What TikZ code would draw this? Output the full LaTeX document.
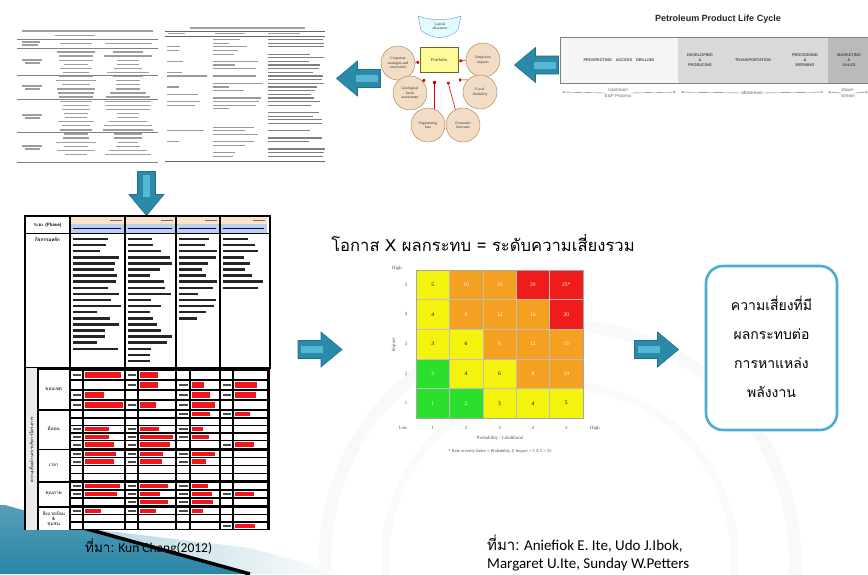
\documentclass[tikz,border=0pt]{standalone}
\usepackage{fontspec}
\setmainfont{Liberation Serif}
\newfontfamily\thaifont[Script=Thai]{Loma}
\newfontfamily\calfont{Carlito}
\newfontfamily\lsans{Liberation Sans}
\newcommand\fsz[2]{\fontsize{#1}{#2}\selectfont}
\definecolor{tealA}{HTML}{2B8AA8}
\definecolor{tealB}{HTML}{1F6F8B}
\definecolor{tealHi}{HTML}{56B6D3}
\definecolor{boxblue}{HTML}{4BADCF}
\definecolor{myY}{HTML}{F3F30E}
\definecolor{myO}{HTML}{F4A020}
\definecolor{myR}{HTML}{F01C1C}
\definecolor{myG}{HTML}{2CDF2C}
\definecolor{circfill}{HTML}{F2DCC4}
\definecolor{circedge}{HTML}{B08A66}
\definecolor{peach}{HTML}{FBE2CB}
\definecolor{hblue}{HTML}{BFD1EA}
\definecolor{cellred}{HTML}{F4141C}
\definecolor{decoteal}{HTML}{2A86A6}
% teal block arrow: centre x, centre y, direction angle
\newcommand\slidearrow[3]{%
  \begin{scope}[shift={(#1,#2)},rotate=#3]
    \fill[tealA,draw=tealB,line width=0.6] (-22,-9) -- (1,-9) -- (1,-17.5) -- (22,0) -- (1,17.5) -- (1,9) -- (-22,9) -- cycle;
    \fill[tealHi] (-19,-3.5) rectangle (3,3.5);
  \end{scope}}
\tikzset{
  tl/.style={black!38,line width=1.3},
  tline/.style={black!85,line width=2.5},
  factor/.style={circle,fill=circfill,draw=circedge,line width=0.5,minimum size=34,inner sep=0,align=center,font=\fsz{3.8}{4.4},text=black!80},
  feed/.style={red!85!black,line width=0.6,-{Square[length=2.2,width=2.6]}},
  cellbox/.style={minimum width=33.4,minimum height=29.6,inner sep=0,font=\fsz{5.5}{6}},
  axlab/.style={font=\fsz{4.8}{5.5},text=black!70,inner sep=0},
  band/.style={font=\lsans\bfseries\fsz{3.9}{4.8},text=black!70,align=center,inner sep=0},
  flow/.style={font=\lsans\fsz{4.5}{5.2},text=black!60,align=center,inner sep=0},
  thaibox/.style={font=\thaifont\fsz{14}{29},align=center,inner sep=0},
}
\usetikzlibrary{arrows.meta}
\begin{document}
\begin{tikzpicture}[x=1pt,y=-1pt]
\clip (0,0) rectangle (868,574);
\fill[white] (0,0) rectangle (868,574);
\pgfmathsetseed{17}

% faint emblem in the background
\draw[black!2.5,line width=12] (560,560) circle (235);
\draw[black!2,line width=8] (560,560) circle (175);

% bottom-left corner decoration
\shade[left color=decoteal!35,right color=white] (90,529) -- (250,548) -- (345,574) -- (240,574) -- cycle;
\shade[top color=decoteal!80,bottom color=decoteal] (5,505) -- (30,512) -- (245,574) -- (0,574) -- (0,505) -- cycle;
\draw[black,line width=3.5] (80,527) -- (250,574);

% ---------- scanned tables, top left ----------
\fill[white] (17,26) rectangle (158,163);
\draw[tl] (22,31) -- (153,31);
\draw[tl] (55,35.5) -- (95,35.5);
\foreach \yy in {39,48,75,99,132,162}{\draw[black!50,line width=0.4] (17,\yy) -- (158,\yy);}
\draw[tl] (22,42) -- (40,42); \draw[tl] (22,45) -- (38,45);
\draw[tl] (60,43.5) -- (92,43.5); \draw[tl] (105,43.5) -- (152,43.5);
\foreach \i in {0,...,25}{
  \pgfmathsetmacro\yy{52+\i*4.1}
  \pgfmathsetmacro\wa{22+20*rnd}
  \pgfmathsetmacro\wb{20+30*rnd}
  \draw[tl] ({76-\wa/2},\yy) -- ({76+\wa/2},\yy);
  \draw[tl] ({128-\wb/2},\yy) -- ({128+\wb/2},\yy);
}
\foreach \yy in {60,86,115,146}{\draw[tl] (22,\yy) -- (42,\yy); \draw[tl] (25,\yy+3) -- (40,\yy+3);}

\fill[white] (165,25) rectangle (325,163);
\draw[tl] (190,28) -- (305,28);
\draw[black!60,line width=0.5] (165,31) -- (325,31);
\draw[tl] (168,33.5) -- (185,33.5); \draw[tl] (215,33.5) -- (245,33.5); \draw[tl] (268,33.5) -- (300,33.5);
\draw[black!60,line width=0.5] (165,36) -- (325,36);
\draw[black!60,line width=0.5] (165,161) -- (325,161);
\foreach \i in {0,...,32}{
  \pgfmathsetmacro\yy{39.5+\i*3.65}
  \pgfmathsetmacro\pa{rnd}\pgfmathsetmacro\wa{10+30*rnd}
  \pgfmathsetmacro\pb{rnd}\pgfmathsetmacro\wb{15+35*rnd}
  \pgfmathsetmacro\pc{rnd}\pgfmathsetmacro\wc{40+17*rnd}
  \ifdim\pa pt<0.5pt \draw[black!40,line width=1.2] (167,\yy) -- ++(\wa,0); \fi
  \ifdim\pb pt<0.6pt \draw[black!40,line width=1.2] (213,\yy) -- ++(\wb,0); \fi
  \ifdim\pc pt<0.85pt \draw[black!50,line width=1.2] (268,\yy) -- ++(\wc,0); \fi
}

% ---------- portfolio influence diagram ----------
\fill[blue!8!cyan!12,draw=cyan!40!blue!50,line width=0.5] (418,16) .. controls (432,21) and (447,21) .. (461,16) -- (458,30) .. controls (448,40) and (431,40) .. (421,30) -- cycle;
\node[font=\fsz{3.8}{4.4},align=center,text=black!80] (cap) at (440,26) {Capital\\allocation};
\node[draw=olive!70!black,fill=yellow!40,line width=0.6,minimum width=38,minimum height=25,font=\fsz{4.5}{5},text=black!80] (port) at (439,60) {Portfolio};
\coordinate (pl) at (419,62);
\coordinate (pr) at (459.5,61);
\coordinate (pb1) at (425,80);
\coordinate (pb2) at (434,81);
\coordinate (pb3) at (448,82);
\coordinate (pb4) at (459,80);
\coordinate (engtop) at (434,116);
\coordinate (ecotop) at (457,116);
\draw[feed] (engtop) -- (pb2);
\draw[feed] (ecotop) -- (pb3);
\node[factor] (corp) at (398,63) {Corporate\\strategies and\\constraints};
\node[factor] (empl) at (483,60) {Employee\\impacts};
\node[factor] (geo) at (410,93) {Geological\\basin\\assessment};
\node[factor] (fisc) at (480,92) {Fiscal\\flexibility};
\node[factor] (eng) at (428,125) {Engineering\\bias};
\node[factor] (eco) at (463,125) {Economic\\forecasts};
\draw[feed] (corp.east) -- (pl);
\draw[feed] (empl.west) -- (pr);
\draw[feed] (geo.north east) -- (pb1);
\draw[feed] (fisc.north west) -- (pb4);

% ---------- petroleum product life cycle ----------
\node[font=\lsans\bfseries\fsz{9}{10},text=black!85] (lctitle) at (718,19) {Petroleum Product Life Cycle};
\fill[black!4] (560,37) rectangle (678,83);
\fill[black!15] (678,37) rectangle (828,83);
\fill[black!27] (828,37) rectangle (870,83);
\draw[black!50,line width=1] (560,37) rectangle (872,83);
\node[band] (pad) at (619,60) {PROSPECTING\quad ACCESS\quad DRILLING};
\node[band] (dev) at (700,60) {DEVELOPING\\\&\\PRODUCING};
\node[band] (trans) at (753,60) {TRANSPORTATION};
\node[band] (proc) at (805,60) {PROCESSING\\\&\\REFINING};
\node[band] (mkt) at (849,60) {MARKETING\\\&\\SALES};
\node[flow] (up) at (618,93) {Upstream\\E\&P Process};
\node[flow] (mid) at (752,93) {Midstream};
\node[flow] (down) at (848,93) {Down-\\stream};
\coordinate (u0) at (562,92); \coordinate (u1) at (676,92);
\coordinate (m0) at (681,92); \coordinate (m1) at (823,92);
\coordinate (d0) at (828,92); \coordinate (d1) at (868,92);
\draw[black!55,line width=0.4,-{Latex[length=2,width=1.6]}] (up.west) -- (u0);
\draw[black!55,line width=0.4,-{Latex[length=2,width=1.6]}] (up.east) -- (u1);
\draw[black!55,line width=0.4,-{Latex[length=2,width=1.6]}] (mid.west) -- (m0);
\draw[black!55,line width=0.4,-{Latex[length=2,width=1.6]}] (mid.east) -- (m1);
\draw[black!55,line width=0.4,-{Latex[length=2,width=1.6]}] (down.west) -- (d0);
\draw[black!55,line width=0.4,-{Latex[length=2,width=1.6]}] (down.east) -- (d1);

% ---------- block arrows ----------
\slidearrow{358.5}{78.5}{180}
\slidearrow{536.5}{65}{180}
\slidearrow{146.5}{193.5}{-90}
\slidearrow{320}{349.5}{0}
\slidearrow{656.5}{349.5}{0}

% ---------- risk register table ----------
\fill[white] (25,216) rectangle (270,368);
\foreach \a/\b in {71/124,126/175,177/219,221/267}{
  \fill[peach] (\a,217) rectangle (\b,223.6);
  \fill[hblue] (\a,224.2) rectangle (\b,232.5);
  \draw[black!55,line width=1] ({\b-14},220.3) -- (\b-2,220.3);
  \draw[blue!45!black,line width=1.4] (\a+2,228.3) -- (\b-3,228.3);
}
\node[font=\thaifont\bfseries\fsz{4.6}{5},inner sep=0] (phase) at (47.5,225) {ระยะ (Phase)};
\node[font=\thaifont\bfseries\fsz{4.6}{5},inner sep=0] (mainact) at (47.5,240) {กิจกรรมหลัก};
\foreach \x/\xe/\n in {73/122/19,128/174/21,179/218/14,223/266/9}{
  \foreach \i in {1,...,\n}{
    \pgfmathsetmacro\yy{239+(\i-1)*6.1}
    \pgfmathsetmacro\ww{0.45+0.55*rnd}
    \draw[tline] (\x,\yy) -- ({\x+(\xe-\x)*\ww},\yy);
  }
}
\draw[line width=1.6] (25,216) rectangle (270,368);
\draw[line width=1.2] (25,233.5) -- (270,233.5);
\foreach \x/\lw in {70/1.3,125/2.2,176/1.3,220/1.3}{\draw[line width=\lw] (\x,216) -- (\x,368);}

% lower part: risk rows
\fill[black] (37,368) rectangle (270,530);
\fill[black!8] (25,368) rectangle (37,530);
\node[rotate=90,font=\thaifont\fsz{4.4}{5},inner sep=0] (riskside) at (31,450) {ความเสี่ยงด้านการบริหารโครงการ};
\foreach \ta/\tb/\lab in {370/409/ขอบเขต,410.5/448.5/ต้นทุน,450/481/เวลา,482.5/506/คุณภาพ,507.5/530/{สิ่งแวดล้อม\\\&\\ชุมชน}}{
  \fill[white] (38.5,\ta) rectangle (69,\tb);
  \node[font=\thaifont\fsz{4.6}{5.2},align=center,inner sep=0] at (53.7,{(\ta+\tb)/2}) {\lab};
}
\foreach \t/\h in {371/8.2,381/8.2,391/8.2,401/7.6,411/6.2,418.6/6.2,426.2/6.2,433.8/6.2,441.4/6.2,450.5/6.4,458.3/6.4,466.1/6.4,473.9/6.4,483/6.4,490.8/6.4,498.6/6.4,508/6,515.4/6,522.8/6}{
  \foreach \a/\b/\c/\d in {71/82/84/124,126/137/139/175,177/189/191/219,221/232/234/267}{
    \fill[white] (\a,\t) rectangle (\b,\t+\h);
    \fill[white] (\c,\t) rectangle (\d,\t+\h);
    \pgfmathsetmacro\ra{rnd}
    \pgfmathsetmacro\rb{rnd}
    \ifdim\ra pt<0.64pt
      \fill[cellred] (\c+1,\t+1) rectangle ({\c+1+(\d-\c-2)*(0.4+0.6*\rb)},\t+\h-1);
      \fill[black!70] (\a+1.5,\t+\h/2-1) rectangle (\b-1.5,\t+\h/2+1);
    \fi
  }
}
\draw[line width=1.6] (25,368) -- (25,530);

% ---------- risk matrix ----------
\node[font=\thaifont\fsz{16.6}{18},inner sep=0] (formula) at (483,243) {โอกาส X ผลกระทบ = ระดับความเสี่ยงรวม};
\foreach \r/\c/\v/\f/\tc in {
  0/0/5/myY/black,0/1/10/myO/white,0/2/15/myO/white,0/3/20/myR/white,0/4/25*/myR/white,
  1/0/4/myY/black,1/1/8/myO/white,1/2/12/myO/white,1/3/16/myO/white,1/4/20/myR/white,
  2/0/3/myY/black,2/1/6/myY/black,2/2/9/myO/white,2/3/12/myO/white,2/4/15/myO/white,
  3/0/2/myG/white,3/1/4/myY/black,3/2/6/myY/black,3/3/8/myO/white,3/4/10/myO/white,
  4/0/1/myG/white,4/1/2/myG/white,4/2/3/myY/black,4/3/4/myY/black,4/4/5/myY/black}{
  \node[cellbox,fill=\f,text=\tc] (m-\r-\c) at ({416+33.4*(\c+0.5)},{270+29.6*(\r+0.5)}) {\v};
}
\foreach \i in {1,...,4}{
  \draw[black!25,line width=0.5] ({416+33.4*\i},270) -- ({416+33.4*\i},418);
  \draw[black!25,line width=0.5] (416,{270+29.6*\i}) -- (583,{270+29.6*\i});
}
\draw[black!35,line width=0.6] (416,270) rectangle (583,418);
\foreach \r/\v in {0/5,1/4,2/3,3/2,4/1}{\node[axlab] at (406,{270+29.6*(\r+0.5)}) {\v};}
\foreach \c/\v in {0/1,1/2,2/3,3/4,4/5}{\node[axlab] at ({416+33.4*(\c+0.5)},428) {\v};}
\node[axlab] (hiy) at (397,268) {High};
\node[axlab] (lowx) at (403,428) {Low};
\node[axlab] (hix) at (595,428) {High};
\node[axlab,rotate=90] (impact) at (394,345) {Impact};
\node[axlab] (prob) at (500,438) {Probability / Likelihood};
\node[axlab,font=\fsz{4.4}{5}] (sev) at (500,451) {* Risk severity Index = Probability X Impact = 5 X 5 = 25};

% ---------- outcome box ----------
\node[draw=boxblue,line width=2.6,rounded corners=17,minimum width=131,minimum height=164,fill=white] (outcome) at (771.5,348) {};
\node[thaibox] (outtext) at (771.5,347) {ความเสี่ยงที่มี\\ผลกระทบต่อ\\การหาแหล่ง\\พลังงาน};

% ---------- sources ----------
\node[font=\calfont\fsz{13.5}{15},anchor=west,inner sep=0] (src1) at (85,547) {{\thaifont ที่มา:} Kun Chang(2012)};
\node[font=\calfont\fsz{15}{17.5},anchor=north west,align=left,inner sep=0] (src2) at (487,535) {{\thaifont ที่มา:} Aniefiok E. Ite, Udo J.Ibok,\\Margaret U.Ite, Sunday W.Petters};
\end{tikzpicture}
\end{document}
